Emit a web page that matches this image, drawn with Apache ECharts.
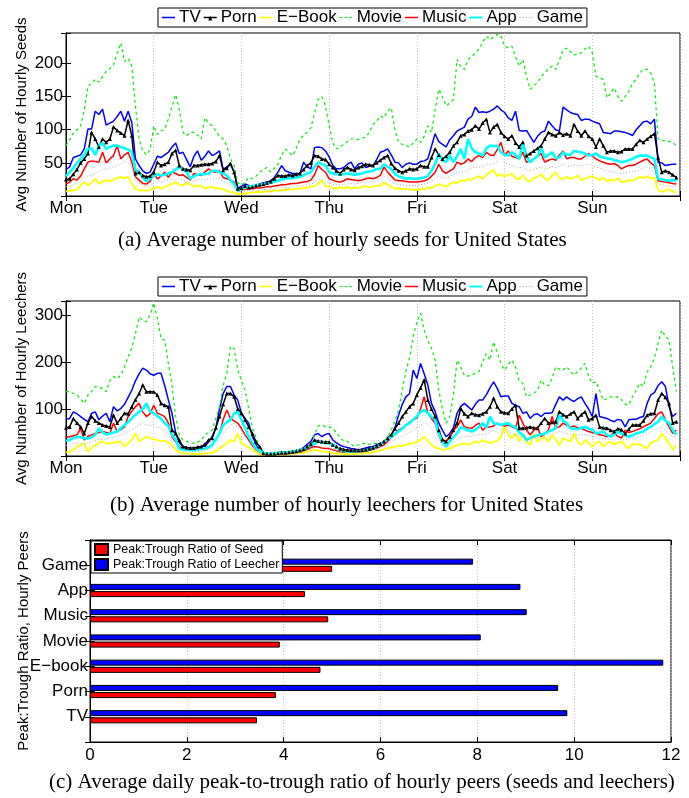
<!DOCTYPE html>
<html><head><meta charset="utf-8">
<script src="https://cdn.jsdelivr.net/npm/echarts@6/dist/echarts.min.js"></script>
<style>html,body{margin:0;padding:0;background:#fff}#c{width:689px;height:798px}</style>
</head><body><div id="c"></div>
<script>
// ---------- tick labels / categories ----------
const dayLabels = ['Mon','Tue','Wed','Thu','Fri','Sat','Sun'];
const seriesNames = ['TV','Porn','E\u2212Book','Movie','Music','App','Game'];
const ratioCategories = ['TV','Porn','E\u2212book','Movie','Music','App','Game'];
const seedRatioName = 'Peak:Trough Ratio of Seed';
const leechRatioName = 'Peak:Trough Ratio of Leecher';

// ---------- (a) hourly seeds, one row per day (Mon..Sun), 24 hourly values ----------
const seedTV = [
 [40,44,58,60,62,71,101,101,128,123,131,107,110,113,120,128,113,128,111,56,46,38,34,36],
 [48,60,58,62,66,74,80,64,66,55,44,60,68,54,60,68,61,64,68,40,44,48,36,12],
 [15,18,16,14,16,18,20,21,23,28,36,46,38,36,34,34,34,51,44,41,73,74,73,68],
 [59,46,41,41,43,48,51,41,48,50,43,45,46,55,66,68,71,62,51,50,43,48,50,48],
 [48,52,53,56,75,94,82,78,74,85,91,98,101,104,116,120,134,126,127,126,128,131,136,130],
 [126,118,114,128,99,98,99,90,81,90,96,98,113,106,100,98,134,130,126,124,123,114,116,116],
 [113,111,109,96,95,94,98,98,97,96,94,91,100,106,112,113,109,116,51,50,46,47,48,48]];
const seedPorn = [
 [25,26,33,40,50,56,64,96,86,74,86,81,86,104,99,95,91,114,91,34,36,31,29,30],
 [36,51,46,48,51,64,69,46,41,40,39,46,46,47,48,48,49,52,61,39,42,49,36,11],
 [12,15,13,14,16,17,18,20,22,26,31,30,30,32,31,33,34,40,46,50,61,60,56,55],
 [48,43,38,34,40,43,40,39,43,45,48,47,46,50,54,58,61,49,42,38,36,38,41,40],
 [41,46,44,44,58,71,62,56,60,66,76,81,91,93,98,100,106,101,110,116,96,104,108,96],
 [90,86,91,80,74,81,61,64,68,72,76,86,96,93,91,96,92,94,91,108,98,91,98,90],
 [86,74,86,76,66,68,68,66,67,71,71,71,78,84,81,86,90,94,58,36,38,36,32,28]];
const seedEbook = [
 [7,8,8,10,16,21,16,20,26,18,22,24,22,25,27,29,27,29,19,11,9,8,8,9],
 [12,14,11,13,16,18,21,17,16,19,18,14,16,15,11,13,14,11,12,10,8,6,5,3],
 [3,4,5,5,6,6,6,7,7,8,8,9,9,10,10,11,11,12,13,14,15,18,24,15],
 [14,12,11,13,12,14,11,13,12,14,15,13,14,16,15,20,17,14,11,12,10,11,10,9],
 [9,11,10,13,12,15,18,16,14,18,21,19,24,22,26,24,28,30,26,32,36,39,30,33],
 [29,32,34,27,25,31,24,22,27,29,33,26,24,31,36,27,25,29,26,28,31,24,26,28],
 [30,27,24,28,22,25,23,27,21,22,24,23,26,29,27,30,26,28,9,6,8,10,7,5]];
const seedMovie = [
 [76,85,95,100,106,130,166,170,176,172,180,188,192,198,215,231,203,208,196,136,86,68,62,70],
 [106,93,98,101,116,135,153,131,96,91,96,96,92,86,118,110,106,98,90,86,76,56,46,20],
 [16,21,28,26,30,36,40,43,36,42,48,62,71,66,61,72,86,92,96,103,125,146,150,136],
 [106,80,71,74,78,82,86,86,85,87,89,96,108,113,121,118,128,133,100,81,78,76,74,80],
 [86,81,90,106,96,130,161,150,136,140,146,206,195,191,206,210,216,222,232,241,236,240,244,242],
 [226,224,226,210,196,206,181,161,166,171,180,186,192,196,191,205,221,223,218,213,214,216,222,226],
 [216,181,178,176,148,155,163,150,143,150,158,170,176,186,191,191,185,171,86,84,83,82,81,76]];
const seedMusic = [
 [18,21,26,24,30,41,51,53,52,51,66,50,56,61,76,56,62,66,51,29,24,19,18,22],
 [34,26,30,36,28,36,34,31,32,28,24,34,32,31,36,41,37,36,38,28,26,24,21,8],
 [9,10,11,11,12,12,13,14,14,15,16,17,17,18,19,19,20,21,22,24,32,46,40,36],
 [26,24,22,21,23,26,25,24,23,24,26,27,26,28,31,44,36,30,24,23,23,22,21,21],
 [21,22,23,25,30,36,48,38,34,38,41,51,48,50,56,52,58,61,58,66,62,61,70,81],
 [61,68,60,58,56,66,51,53,56,60,64,51,54,56,54,62,68,56,58,58,56,56,60,64],
 [60,56,53,51,49,48,49,46,41,44,46,46,48,51,54,56,50,46,23,22,21,20,19,18]];
const seedApp = [
 [30,36,42,50,56,62,71,72,62,75,80,71,74,76,76,74,72,70,66,39,36,28,22,26],
 [30,33,31,32,34,36,40,44,40,36,26,30,32,33,33,34,38,38,36,34,31,24,18,8],
 [10,13,14,15,16,17,18,19,20,22,23,25,26,27,27,28,29,31,34,36,44,51,48,46],
 [36,34,33,32,33,34,33,32,33,34,36,37,38,41,41,48,44,41,33,30,28,26,27,26],
 [26,27,28,30,38,48,64,54,51,61,51,60,71,56,86,72,66,64,61,72,76,75,76,66],
 [62,61,66,62,56,78,60,51,56,60,73,58,62,66,57,58,66,62,62,68,67,66,64,61],
 [62,64,60,58,57,56,54,53,51,52,54,56,59,61,61,61,58,56,26,25,24,23,24,23]];
const seedGame = [
 [14,15,17,19,22,26,30,31,34,37,40,41,42,44,46,48,53,50,44,24,19,16,15,16],
 [20,22,21,23,24,26,25,27,24,22,21,23,24,25,24,26,25,27,26,22,20,17,14,6],
 [6,7,8,8,9,9,10,10,11,11,12,12,13,13,14,14,15,16,17,18,20,26,24,22],
 [20,18,17,17,18,18,19,18,19,20,20,21,22,22,24,30,27,22,19,17,17,16,16,16],
 [16,17,18,19,22,26,30,28,27,29,32,35,36,37,40,43,44,43,45,47,48,50,52,58],
 [50,48,46,44,42,45,40,38,40,42,44,40,42,45,43,46,48,44,45,47,46,45,47,48],
 [46,44,42,40,38,37,36,35,34,35,36,37,38,40,42,44,40,36,18,17,16,15,14,14]];

// ---------- (b) hourly leechers ----------
const leechTV = [
 [78,80,94,90,84,78,73,91,94,77,85,91,73,105,96,101,110,125,140,160,175,187,183,175],
 [172,176,176,150,120,91,50,28,20,18,16,17,18,20,21,30,41,60,100,133,148,148,130,119],
 [91,80,70,41,25,9,6,5,5,6,7,8,8,9,10,12,13,18,25,31,45,48,41,46],
 [48,34,28,23,20,18,16,15,13,15,17,19,20,24,27,31,34,45,60,87,110,126,133,183],
 [165,197,175,151,112,95,70,55,41,48,60,91,105,112,105,98,110,119,119,130,145,158,144,126],
 [128,128,112,108,105,91,94,80,88,90,84,91,91,92,110,126,119,126,120,116,122,126,112,100],
 [84,133,84,82,80,76,73,78,76,62,77,78,78,82,84,112,130,135,150,158,148,105,84,91]];
const leechPorn = [
 [60,62,80,70,62,48,70,84,75,70,66,64,62,87,70,80,91,90,105,120,133,151,137,137],
 [137,130,112,108,105,55,48,34,20,18,17,17,19,20,25,34,38,60,84,110,133,133,126,100],
 [91,77,62,48,30,20,6,5,5,5,6,7,7,8,9,10,12,15,20,25,34,32,31,30],
 [30,24,20,16,14,13,12,12,12,13,14,16,18,22,26,31,38,45,58,70,84,94,105,112],
 [130,145,162,119,100,84,55,35,31,41,55,70,101,90,84,91,88,87,90,94,105,123,105,94],
 [92,91,100,108,59,59,60,62,60,59,70,80,70,72,73,94,88,84,90,94,80,88,94,77],
 [80,87,62,60,59,55,52,58,56,48,57,66,66,66,75,87,90,91,119,133,125,112,70,73]];
const leechEbook = [
 [8,9,14,20,24,27,9,18,23,28,31,27,27,28,30,31,20,27,35,48,31,36,41,38],
 [36,34,31,33,28,23,13,8,6,5,5,4,4,5,5,6,7,10,16,22,27,34,31,48],
 [27,23,18,13,8,4,3,3,3,3,3,4,4,4,5,5,6,7,9,11,13,12,10,9],
 [8,6,5,4,4,4,4,4,5,5,6,7,8,10,12,14,16,18,20,22,21,24,26,28],
 [30,34,41,31,24,18,16,13,14,16,20,23,25,27,24,26,31,28,34,30,28,30,33,41],
 [62,45,38,48,31,45,30,23,48,30,36,41,30,45,36,23,38,34,31,48,30,23,34,28],
 [20,28,31,20,27,31,25,28,31,22,16,26,24,25,20,16,28,31,34,48,38,28,13,23]];
const leechMovie = [
 [137,137,133,130,121,112,130,137,148,146,144,137,160,169,165,172,190,211,230,260,296,289,286,300],
 [326,293,250,247,197,150,84,45,34,31,28,27,30,33,45,50,55,80,105,150,176,233,229,183],
 [160,140,100,60,40,15,8,6,6,8,9,10,9,10,12,13,13,16,18,20,45,64,66,62],
 [62,59,50,38,32,31,25,20,24,27,26,25,26,27,27,32,40,55,75,98,140,180,210,254],
 [285,304,268,245,230,204,140,100,70,84,130,204,190,172,170,172,176,180,200,218,204,243,220,197],
 [183,195,204,190,160,155,126,130,133,140,162,151,150,165,190,185,183,190,180,172,180,187,197,170],
 [155,158,140,119,122,126,125,126,120,110,109,126,140,155,148,179,190,208,240,268,255,247,190,137]];
const leechMusic = [
 [40,41,43,45,59,34,42,45,48,50,52,50,48,70,52,56,62,84,95,105,112,94,84,90],
 [108,91,88,84,70,41,30,20,16,13,13,13,14,15,16,20,23,35,48,77,98,80,75,70],
 [59,45,34,22,13,8,6,5,5,5,5,6,6,7,7,8,9,11,14,18,20,19,17,16],
 [16,13,11,9,8,8,8,8,9,9,10,12,14,17,20,24,31,40,48,55,60,66,72,77],
 [80,100,126,91,80,70,45,27,32,38,55,62,77,62,60,59,65,70,55,62,62,64,70,66],
 [64,66,62,59,87,70,55,45,55,62,41,48,55,84,60,62,70,66,62,64,60,59,55,52],
 [50,48,45,44,41,44,48,42,38,55,50,52,55,58,62,66,70,80,90,94,77,62,48,55]];
const leechApp = [
 [32,34,38,41,40,38,37,40,45,59,50,46,48,50,52,59,66,72,80,88,94,100,112,95],
 [91,85,80,70,64,45,35,16,14,13,13,13,14,15,16,18,24,35,48,66,72,77,91,94],
 [77,60,41,28,16,10,6,5,5,5,6,7,7,8,9,10,12,15,18,23,26,31,29,27],
 [27,24,20,13,10,9,9,9,10,11,12,14,17,20,24,30,36,41,46,52,58,66,70,77],
 [84,94,98,91,84,77,48,30,20,31,40,48,62,58,55,52,56,62,70,60,84,70,68,66],
 [68,70,64,62,50,45,34,38,41,44,46,48,52,55,60,87,75,70,59,58,57,60,62,58],
 [56,48,50,52,45,41,46,52,48,44,41,44,48,50,52,58,62,68,73,84,75,70,55,45]];
const leechGame = [
 [22,24,26,28,27,26,28,30,33,36,35,37,38,40,42,45,48,52,56,60,65,70,66,64],
 [68,62,58,52,45,30,22,12,10,9,9,9,10,11,12,14,18,25,35,48,58,66,70,62],
 [55,42,30,20,12,7,4,3,3,4,4,5,5,6,6,7,8,10,12,15,18,20,19,18],
 [17,15,12,9,8,7,7,7,8,8,9,10,12,14,17,21,25,30,34,38,42,46,50,55],
 [60,65,72,66,58,50,35,22,18,22,28,34,40,42,41,42,44,46,45,48,52,55,50,48],
 [50,52,48,46,44,40,36,38,40,42,44,43,45,48,50,52,50,48,46,47,45,44,46,43],
 [42,40,38,37,36,35,34,36,35,34,36,38,40,42,44,48,52,56,60,62,55,48,42,40]];

// ---------- (c) peak:trough ratios ----------
const seedRatio  = [3.45, 3.84, 4.76, 3.92, 4.92, 4.44, 5.00];
const leechRatio = [9.86, 9.67, 11.84, 8.07, 9.02, 8.89, 7.91];

// ---------- styles ----------
const BOX = 'M0,0h13v0.01h-13z M0,9.99h13v0.01h-13z ';
const SOLID = 'path://' + BOX + 'M0,4.3h13v1.4h-13z';
const lineStyles = {
  'TV':        {color:'#0000ff', width:1.5, icon:SOLID},
  'Porn':      {color:'#000000', width:1.5, symbol:'triangle', size:4, icon:SOLID + ' M4.5,8L6.5,3L8.5,8z'},
  'E\u2212Book':{color:'#ffff00', width:1.8, icon:SOLID},
  'Movie':     {color:'#00ee00', width:1.2, type:[3,3], icon:'path://' + BOX + 'M0,4.4h2.5v1.2h-2.5z M5,4.4h2.5v1.2h-2.5z M10,4.4h2.5v1.2h-2.5z'},
  'Music':     {color:'#ff0000', width:1.5, icon:SOLID},
  'App':       {color:'#00ffff', width:2.6, icon:'path://' + BOX + 'M0,3.9h13v2.2h-13z'},
  'Game':      {color:'#aaaaaa', width:1, type:[1,2], icon:'path://' + BOX + 'M0,4.5h1v1h-1z M3,4.5h1v1h-1z M6,4.5h1v1h-1z M9,4.5h1v1h-1z M12,4.5h1v1h-1z'}
};
const seedData  = [seedTV, seedPorn, seedEbook, seedMovie, seedMusic, seedApp, seedGame];
const leechData = [leechTV, leechPorn, leechEbook, leechMovie, leechMusic, leechApp, leechGame];

function toXY(days){
  const out = [];
  days.forEach((d, di) => d.forEach((v, i) => out.push([di*24 + i, v])));
  return out;
}
const SANS = 'Liberation Sans';
function lineSeries(name, days, gi){
  const s = lineStyles[name];
  return {
    type:'line', name, xAxisIndex:gi, yAxisIndex:gi, data: toXY(days),
    showSymbol: !!s.symbol, symbol: s.symbol || 'none', symbolSize: s.size || 0,
    itemStyle:{color:s.color}, silent:true, animation:false,
    lineStyle:{color:s.color, width:s.width, type:s.type || 'solid'},
    emphasis:{disabled:true}
  };
}
const series = [];
seriesNames.forEach((n, k) => series.push(lineSeries(n, seedData[k], 0)));
seriesNames.forEach((n, k) => series.push(lineSeries(n, leechData[k], 1)));
const padCats = [''].concat(ratioCategories, ['']);
series.push({type:'bar', name:leechRatioName, xAxisIndex:2, yAxisIndex:2,
  data:[null].concat(leechRatio,[null]), barWidth:6, barGap:'20%',
  itemStyle:{color:'#0000ff', borderColor:'#000', borderWidth:1}, silent:true, animation:false});
series.push({type:'bar', name:seedRatioName, xAxisIndex:2, yAxisIndex:2,
  data:[null].concat(seedRatio,[null]), barWidth:6, barGap:'20%',
  itemStyle:{color:'#ff0000', borderColor:'#000', borderWidth:1}, silent:true, animation:false});

const blk = {lineStyle:{color:'#000', width:1}};
const tickIn = {show:true, inside:true, length:5, lineStyle:{color:'#000', width:1}};
const dotted = {show:true, lineStyle:{color:'#c4c4c4', type:[1,2], width:1}};
const TICKFONT = 17;
function dayAxis(gi){
  return {gridIndex:gi, type:'value', min:0, max:168, interval:24,
    axisLine:{show:true, ...blk}, axisTick:tickIn, splitLine:dotted,
    axisLabel:{formatter:v => dayLabels[v/24] || '', fontFamily:SANS, fontSize:TICKFONT, color:'#000', margin:4}};
}
function topAxis(gi, min, max, interval){
  return {gridIndex:gi, type:'value', position:'top', min, max, interval,
    axisLine:{show:true, ...blk}, axisTick:tickIn, axisLabel:{show:false}, splitLine:{show:false}};
}
function valY(gi, max, interval, name, gap){
  return {gridIndex:gi, type:'value', min:0, max, interval,
    axisLine:{show:true, ...blk}, axisTick:tickIn, splitLine:{show:false},
    axisLabel:{formatter:v => (v > 0 && v % interval === 0) ? String(v) : '', fontFamily:SANS, fontSize:TICKFONT, color:'#000', margin:3},
    name, nameLocation:'middle', nameGap:gap, nameRotate:90, nameMoveOverlap:false,
    nameTextStyle:{fontFamily:SANS, fontSize:15, color:'#000'}};
}
function rightY(gi, max, interval){
  return {gridIndex:gi, type:'value', position:'right', min:0, max, interval,
    axisLine:{show:true, ...blk}, axisTick:tickIn, splitLine:{show:false}, axisLabel:{show:false}};
}
const lineLegendData = seriesNames.map(n => ({name:n, icon:lineStyles[n].icon}));
const legendBase = {
  backgroundColor:'#fff', borderColor:'#000', borderWidth:1, padding:[1,4], itemGap:3,
  itemWidth:13, itemHeight:10, selectedMode:false, symbolKeepAspect:false,
  itemStyle:{borderWidth:0},
  textStyle:{fontFamily:SANS, fontSize:17, color:'#000', padding:[0,0,0,-1]}
};
const gridBase = {show:true, borderColor:'#000', borderWidth:1, backgroundColor:'#fff', containLabel:false, outerBoundsMode:'none'};

const option = {
  animation:false,
  backgroundColor:'#fff',
  grid:[
    {...gridBase, left:66, top:33, width:614, height:163},
    {...gridBase, left:66, top:301, width:614, height:155},
    {...gridBase, left:90, top:540, width:581, height:202}
  ],
  xAxis:[
    dayAxis(0), dayAxis(1),
    {gridIndex:2, type:'value', min:0, max:12, interval:2,
      axisLine:{show:true, ...blk}, axisTick:tickIn, splitLine:dotted,
      axisLabel:{fontFamily:SANS, fontSize:TICKFONT, color:'#000', margin:5}},
    topAxis(0, 0, 168, 24), topAxis(1, 0, 168, 24), topAxis(2, 0, 12, 2)
  ],
  yAxis:[
    valY(0, 246, 50, 'Avg Number of Hourly Seeds', 37),
    valY(1, 330, 100, 'Avg Number of Hourly Leechers', 37),
    {gridIndex:2, type:'category', data:padCats, boundaryGap:false,
      axisLine:{show:true, ...blk}, axisTick:{...tickIn, interval:0}, splitLine:{show:false},
      axisLabel:{fontFamily:SANS, fontSize:TICKFONT, color:'#000', margin:2, interval:0},
      name:'Peak:Trough Ratio, Hourly Peers', nameLocation:'middle', nameGap:59, nameRotate:90, nameMoveOverlap:false,
      nameTextStyle:{fontFamily:SANS, fontSize:15, color:'#000'}},
    rightY(0, 246, 50), rightY(1, 330, 100),
    {gridIndex:2, type:'category', position:'right', data:padCats, boundaryGap:false,
      axisLine:{show:true, ...blk}, axisTick:{...tickIn, interval:0}, axisLabel:{show:false}, splitLine:{show:false}}
  ],
  legend:[
    {...legendBase, data:lineLegendData, left:158, top:8},
    {...legendBase, data:lineLegendData, left:158, top:277},
    {backgroundColor:'#fff', borderColor:'#000', borderWidth:1, padding:[2,3], itemGap:2,
      itemWidth:13, itemHeight:11, orient:'vertical', left:91, top:541, selectedMode:false, icon:'rect',
      data:[seedRatioName, leechRatioName],
      textStyle:{fontFamily:SANS, fontSize:12.5, color:'#000'}}
  ],
  graphic:[
    {type:'text', x:118, y:240, style:{text:'(a) Average number of hourly seeds for United States', font:'21px "Liberation Serif"', fill:'#000', verticalAlign:'middle'}},
    {type:'text', x:110, y:505, style:{text:'(b) Average number of hourly leechers for United States', font:'21px "Liberation Serif"', fill:'#000', verticalAlign:'middle'}},
    {type:'text', x:49, y:782, style:{text:'(c) Average daily peak-to-trough ratio of hourly peers (seeds and leechers)', font:'21px "Liberation Serif"', fill:'#000', verticalAlign:'middle'}}
  ],
  series
};
const chart = echarts.init(document.getElementById('c'), null, {renderer:'canvas'});
chart.setOption(option);
</script>
</body></html>
